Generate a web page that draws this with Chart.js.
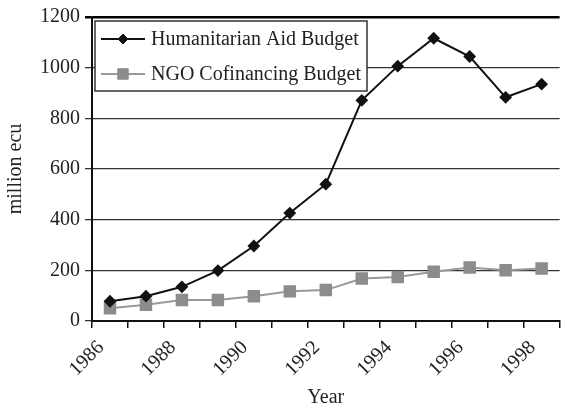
<!DOCTYPE html>
<html>
<head>
<meta charset="utf-8">
<script src="https://cdn.jsdelivr.net/npm/chart.js@4"></script>
<style>
  html, body { margin: 0; padding: 0; background: #fff; overflow: hidden; }
  #wrap { width: 569px; height: 411px; }
</style>
</head>
<body>
<div id="wrap"><canvas id="grafico" width="569" height="411"></canvas></div>
<script>
const years = ['1986', '1987', '1988', '1989', '1990', '1991', '1992', '1993', '1994', '1995', '1996', '1997', '1998'];
const humanitarian = [78, 98, 135, 199, 296, 426, 540, 871, 1006, 1116, 1044, 883, 935];
const ngo = [50, 64, 83, 83, 98, 117, 122, 168, 174, 194, 211, 200, 207];
const yTicks = [0, 200, 400, 600, 800, 1000, 1200];

const serif = "'Liberation Serif', 'Times New Roman', serif";
Chart.defaults.font.family = serif;
Chart.defaults.color = '#222';

// leyenda dentro del area del grafico, con marco
const boxLegend = {
  id: 'boxLegend',
  afterDraw(chart) {
    const ctx = chart.ctx;
    ctx.save();
    ctx.fillStyle = '#fff';
    ctx.fillRect(95, 21, 272, 70);
    ctx.strokeStyle = '#333';
    ctx.lineWidth = 1.5;
    ctx.strokeRect(95, 21, 272, 70);
    ctx.font = '20px ' + serif;
    ctx.textBaseline = 'middle';
    chart.data.datasets.forEach((ds, i) => {
      const y = 39 + i * 35;
      ctx.strokeStyle = ds.borderColor;
      ctx.lineWidth = ds.borderWidth;
      ctx.beginPath();
      ctx.moveTo(101, y);
      ctx.lineTo(145, y);
      ctx.stroke();
      ctx.fillStyle = ds.pointBackgroundColor;
      ctx.strokeStyle = ds.pointBorderColor;
      ctx.lineWidth = 1;
      Chart.helpers.drawPoint(ctx, {
        pointStyle: ds.pointStyle, radius: ds.pointRadius, borderWidth: 1, rotation: 0
      }, 123, y);
      ctx.fillStyle = '#222';
      ctx.fillText(ds.label, 151, y + 1);
    });
    ctx.restore();
  }
};

new Chart(document.getElementById('grafico'), {
  type: 'line',
  data: {
    labels: years,
    datasets: [{
      label: 'Humanitarian Aid Budget',
      data: humanitarian,
      borderColor: '#111',
      borderWidth: 2,
      pointStyle: 'rectRot',
      pointRadius: 5,
      pointBackgroundColor: '#111',
      pointBorderColor: '#111',
      tension: 0
    }, {
      label: 'NGO Cofinancing Budget',
      data: ngo,
      borderColor: '#999',
      borderWidth: 2,
      pointStyle: 'rect',
      pointRadius: 7.4,
      pointBackgroundColor: '#8c8c8c',
      pointBorderColor: '#8c8c8c',
      tension: 0
    }]
  },
  options: {
    responsive: false,
    animation: false,
    layout: { padding: { top: 16, left: 0, right: 0, bottom: 0 } },
    plugins: { legend: { display: false }, tooltip: { enabled: false } },
    scales: {
      x: {
        offset: true,
        grid: {
          offset: true,
          drawOnChartArea: false,
          drawTicks: true,
          tickLength: 7,
          color: '#111',
          lineWidth: 1.5
        },
        border: { color: '#111', width: 2 },
        ticks: {
          autoSkip: false,
          minRotation: 45,
          maxRotation: 45,
          labelOffset: -9,
          padding: 8,
          font: { size: 20 },
          callback: function(value, index) {
            return index % 2 === 0 ? years[index] : '';
          }
        },
        title: { display: true, text: 'Year', font: { size: 20 }, padding: { top: 0, bottom: 1 } },
        afterFit(scale) { scale.height = 90; }
      },
      y: {
        min: 0,
        max: 1200,
        afterBuildTicks(scale) { scale.ticks = yTicks.map(v => ({ value: v })); },
        grid: {
          drawTicks: true,
          tickLength: 7,
          color: ctx => ctx.tick && ctx.tick.value === 1200 ? '#000' : '#333',
          lineWidth: ctx => ctx.tick && ctx.tick.value === 1200 ? 2.5 : 1.3
        },
        border: { color: '#111', width: 2 },
        ticks: { font: { size: 20 }, padding: 5, callback: v => String(v) },
        title: { display: true, text: 'million ecu', font: { size: 20 }, padding: { top: 4, bottom: 0 } },
        afterFit(scale) { scale.width = 92; }
      }
    }
  },
  plugins: [boxLegend]
});
</script>
</body>
</html>
